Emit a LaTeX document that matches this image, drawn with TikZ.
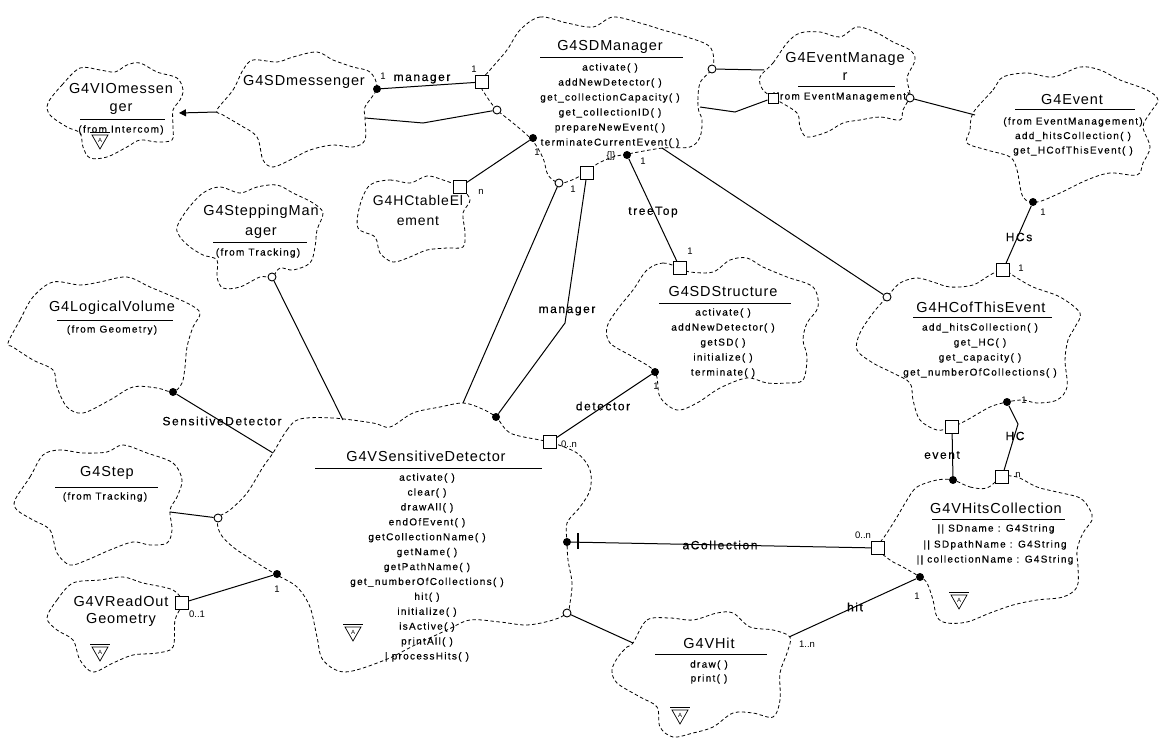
\documentclass[tikz,border=0pt]{standalone}
\usepackage{fontspec}
\setmainfont{Liberation Sans}
\newfontfamily\ttlfont[LetterSpace=6]{Liberation Sans}
\newfontfamily\smfont[LetterSpace=13,FakeBold=0.35]{Liberation Sans}
\usetikzlibrary{arrows.meta}
\tikzset{
 cloudline/.style={draw=black, line width=0.8pt, dash pattern=on 3.5pt off 2.5pt},
 conn/.style={draw=black, line width=1pt},
 sqbox/.style={shape=rectangle, draw=black, fill=white, line width=0.9pt, minimum size=13pt, inner sep=0pt},
 sqsmall/.style={sqbox, minimum size=10pt},
 hollowdot/.style={shape=circle, draw=black, fill=white, line width=0.9pt, minimum size=8pt, inner sep=0pt},
 fulldot/.style={shape=circle, fill=black, minimum size=8pt, inner sep=0pt},
 ttl/.style={font=\ttlfont\fontsize{14.5}{18}\selectfont, inner sep=0pt, align=center},
 meth/.style={font=\smfont\fontsize{10}{15}\selectfont, inner sep=0pt, align=center},
 lbl/.style={font=\smfont\fontsize{12}{14}\selectfont, inner sep=0pt},
 mult/.style={font=\fontsize{9.5}{10}\selectfont, inner sep=0pt},
 uline/.style={draw=black, line width=1pt},
 absmark/.pic={
   \draw[line width=0.7pt] (-10,-9) -- (10,-9);
   \draw[line width=0.7pt] (-8,-6) -- (8,-6) -- (0,8) -- cycle;
   \node[font=\fontsize{6}{6}\selectfont, inner sep=0pt] at (0,-1) {A};
 }
}
\begin{document}
\begin{tikzpicture}[x=1pt,y=-1pt]
\useasboundingbox[fill=white] (0,0) rectangle (1161,738);

% ---------------- clouds ----------------
\draw[cloudline] plot[smooth cycle, tension=0.55] coordinates {(48,103) (62,85) (80,68) (100,70) (115,72) (127,65) (140,63) (157,72) (177,78) (183,90) (180,100) (173,110) (173,127) (172,140) (157,142) (140,140) (127,147) (107,157) (90,158) (83,147) (80,133) (67,127) (50,115)};
\draw[cloudline] plot[smooth cycle, tension=0.55] coordinates {(217,110) (233,90) (243,70) (253,60) (277,62) (293,57) (317,52) (333,60) (353,67) (370,72) (377,88) (365,107) (365,118) (365,140) (353,147) (333,145) (310,150) (290,160) (273,167) (263,160) (257,137) (240,125) (223,115)};
\draw[cloudline] plot[smooth cycle, tension=0.55] coordinates {(520,30) (540,17) (567,23) (593,27) (613,17) (640,23) (663,30) (687,37) (710,47) (713,67) (700,83) (698,107) (702,120) (700,137) (690,147) (663,148) (633,153) (613,157) (597,164) (587,172) (572,180) (559,183) (548,175) (543,158) (532,140) (513,123) (497,110) (487,97) (480,83) (490,70) (507,50)};
\draw[cloudline] plot[smooth cycle, tension=0.55] coordinates {(760,77) (773,63) (787,43) (800,33) (820,32) (840,37) (857,27) (877,33) (893,42) (910,50) (915,60) (907,78) (910,95) (903,110) (900,120) (880,117) (860,120) (843,123) (827,132) (807,137) (800,127) (797,113) (777,100) (763,90)};
\draw[cloudline] plot[smooth cycle, tension=0.55] coordinates {(973,113) (993,90) (1003,77) (1027,73) (1053,77) (1080,67) (1100,70) (1120,80) (1147,90) (1158,100) (1150,113) (1143,127) (1150,147) (1143,163) (1137,175) (1110,173) (1087,180) (1060,193) (1037,202) (1023,197) (1017,170) (1010,157) (987,150) (967,143) (970,130)};
\draw[cloudline] plot[smooth cycle, tension=0.55] coordinates {(370,185) (390,180) (410,183) (427,176) (443,180) (460,187) (470,200) (463,213) (465,233) (463,247) (447,248) (427,250) (410,257) (393,262) (380,253) (375,237) (358,228) (360,205)};
\draw[cloudline] plot[smooth cycle, tension=0.55] coordinates {(177,227) (187,210) (203,193) (220,187) (240,193) (257,187) (277,185) (293,193) (313,203) (323,213) (317,230) (315,247) (310,263) (293,270) (280,268) (272,277) (260,277) (240,287) (223,288) (217,277) (217,260) (203,255) (190,247) (180,237)};
\draw[cloudline] plot[smooth cycle, tension=0.55] coordinates {(8,343) (20,320) (33,297) (53,282) (80,285) (100,282) (127,277) (150,287) (187,303) (200,313) (193,327) (187,347) (185,367) (182,383) (173,392) (157,388) (133,387) (110,400) (83,413) (67,407) (57,387) (53,370) (33,360) (13,347)};
\draw[cloudline] plot[smooth cycle, tension=0.55] coordinates {(15,500) (30,477) (43,455) (60,450) (83,453) (107,452) (123,445) (147,453) (173,463) (182,480) (177,497) (170,510) (172,530) (167,543) (150,545) (133,542) (110,550) (87,560) (70,565) (57,553) (50,530) (33,520) (17,510)};
\draw[cloudline] plot[smooth cycle, tension=0.55] coordinates {(47,618) (57,600) (73,583) (100,580) (123,577) (143,583) (173,590) (182,603) (175,620) (173,647) (157,653) (133,655) (113,663) (93,672) (80,660) (73,640) (57,630)};
\draw[cloudline] plot[smooth cycle, tension=0.55] coordinates {(273,453) (287,430) (300,419) (333,418) (373,423) (390,427) (413,413) (440,407) (463,403) (480,408) (496,417) (510,433) (540,440) (550,442) (577,453) (590,470) (590,490) (580,507) (567,523) (567,542) (568,560) (572,583) (570,603) (567,613) (553,620) (527,625) (500,622) (470,620) (447,630) (415,645) (385,660) (345,672) (323,660) (317,637) (310,607) (297,587) (277,575) (257,563) (233,547) (220,533) (218,518) (230,510) (247,493) (263,467)};
\draw[cloudline] plot[smooth cycle, tension=0.55] coordinates {(647,270) (663,263) (680,268) (690,272) (713,272) (730,260) (747,258) (763,267) (787,277) (813,287) (818,307) (807,323) (803,340) (807,357) (803,380) (787,383) (767,383) (747,378) (720,388) (697,403) (677,410) (660,397) (655,372) (633,357) (610,343) (607,327) (617,310) (633,290)};
\draw[cloudline] plot[smooth cycle, tension=0.55] coordinates {(887,297) (900,283) (917,278) (933,282) (950,287) (973,285) (990,275) (1003,270) (1017,278) (1033,287) (1060,297) (1080,313) (1075,327) (1068,340) (1065,360) (1067,387) (1057,400) (1037,403) (1023,400) (1007,402) (990,407) (967,420) (952,427) (937,430) (920,420) (913,400) (910,383) (893,373) (873,363) (857,350) (860,333) (873,313)};
\draw[cloudline] plot[smooth cycle, tension=0.55] coordinates {(953,480) (970,487) (987,488) (1002,477) (1017,477) (1037,487) (1057,492) (1080,498) (1090,510) (1092,520) (1083,533) (1077,550) (1078,567) (1077,587) (1063,597) (1037,600) (1013,605) (990,613) (967,622) (947,623) (937,617) (933,600) (927,583) (920,577) (903,567) (890,560) (878,548) (887,533) (897,517) (907,500) (917,487) (937,480)};
\draw[cloudline] plot[smooth cycle, tension=0.55] coordinates {(633,643) (647,620) (670,618) (693,620) (717,613) (733,613) (750,627) (773,630) (790,637) (787,653) (780,673) (780,700) (773,717) (753,713) (733,713) (713,727) (693,733) (673,737) (660,727) (657,707) (640,697) (617,683) (612,670) (618,657) (627,647)};

% ---------------- class texts ----------------
\node[ttl] (vio) at (121,99) {G4VIOmessen\\ger};
\draw[uline] (80,120) -- (165,120);
\node[meth] (vioF) at (121,130) {(from Intercom)};
\pic at (100,141) {absmark};

\node[ttl] (sdmsg) at (304,82) {G4SDmessenger};

\node[ttl] (sdm) at (610,47) {G4SDManager};
\draw[uline] (540,58) -- (683,58);
\node[meth] (sdmM) at (610,105.5) {activate( )\\addNewDetector( )\\get\_collectionCapacity( )\\get\_collectionID( )\\prepareNewEvent( )\\terminateCurrentEvent( )};

\node[ttl] (evm) at (845,66) {G4EventManage\\r};
\draw[uline] (798,87) -- (895,87);
\node[meth] (evmF) at (841,97) {(from EventManagement)};

\node[ttl] (ev) at (1072,100) {G4Event};
\draw[uline] (1015,110) -- (1135,110);
\node[meth, font=\smfont\fontsize{10}{14.5}\selectfont] (evM) at (1073,136.5) {(from EventManagement)\\add\_hitsCollection( )\\get\_HCofThisEvent( )};

\node[ttl, font=\ttlfont\fontsize{14}{20}\selectfont] (hct) at (418,210) {G4HCtableEl\\ement};

\node[ttl, font=\ttlfont\fontsize{14.5}{20}\selectfont] (stm) at (261,222) {G4SteppingMan\\ager};
\draw[uline] (213,242) -- (307,242);
\node[meth] (stmF) at (258,253) {(from Tracking)};

\node[ttl] (lv) at (112,308) {G4LogicalVolume};
\draw[uline] (57,320) -- (173,320);
\node[meth] (lvF) at (112,330) {(from Geometry)};

\node[ttl] (step) at (107,473) {G4Step};
\draw[uline] (55,487) -- (158,487);
\node[meth] (stepF) at (105,497) {(from Tracking)};

\node[ttl, font=\ttlfont\fontsize{14.5}{17}\selectfont] (ro) at (121,611.5) {G4VReadOut\\Geometry};
\pic at (100,653) {absmark};

\node[ttl] (vsd) at (426,456) {G4VSensitiveDetector};
\draw[uline] (315,468) -- (542,468);
\node[meth, font=\smfont\fontsize{10}{14.9}\selectfont] (vsdM) at (427,567.5) {activate( )\\clear( )\\drawAll( )\\endOfEvent( )\\getCollectionName( )\\getName( )\\getPathName( )\\get\_numberOfCollections( )\\hit( )\\initialize( )\\isActive( )\\printAll( )\\| processHits( )};
\pic at (353,633) {absmark};

\node[ttl] (sds) at (723,292) {G4SDStructure};
\draw[uline] (659,303) -- (791,303);
\node[meth] (sdsM) at (723,343) {activate( )\\addNewDetector( )\\getSD( )\\initialize( )\\terminate( )};

\node[ttl] (hce) at (981,307) {G4HCofThisEvent};
\draw[uline] (913,317) -- (1052,317);
\node[meth] (hceM) at (980,350.5) {add\_hitsCollection( )\\get\_HC( )\\get\_capacity( )\\get\_numberOfCollections( )};

\node[ttl] (vhc) at (996,508) {G4VHitsCollection};
\draw[uline] (932,519) -- (1065,519);
\node[meth] (vhcA1) at (996,529) {|| SDname : G4String};
\node[meth] (vhcA2) at (995,545) {|| SDpathName : G4String};
\node[meth] (vhcA3) at (995,560) {|| collectionName : G4String};
\pic at (959,601) {absmark};

\node[ttl] (vhit) at (709,643) {G4VHit};
\draw[uline] (655,654) -- (767,654);
\node[meth, font=\smfont\fontsize{10}{14}\selectfont] (vhitM) at (709,672) {draw( )\\print( )};
\pic at (680,716) {absmark};

% ---------------- end points ----------------
\coordinate (cMsgInh) at (217,112);
\coordinate (cVioR) at (179,113);
\node[fulldot] (fdMsgMgr) at (377,89) {};
\node[sqbox] (sqMgrMsg) at (482,82) {};
\coordinate (cMsgUse) at (365,118);
\coordinate (cUseBend) at (423,123);
\node[hollowdot] (hcMgrMsg) at (497,110) {};
\node[hollowdot] (hcMgrEM) at (712,69) {};
\coordinate (cEMup) at (764,70);
\coordinate (cMgrEM) at (700,107);
\coordinate (cEMbend) at (735,112);
\node[sqsmall] (sqEM) at (773,98) {};
\node[hollowdot] (hcEMEv) at (910,98) {};
\coordinate (cEvL) at (975,115);
\node[fulldot] (fdMgrHCT) at (533,138) {};
\node[sqbox] (sqHCT) at (460,187) {};
\node[hollowdot] (hcMgrVSD) at (559,183) {};
\coordinate (cVSDtop) at (463,403);
\node[sqbox] (sqMgrVSD) at (587,173) {};
\coordinate (cMgrBend) at (565,323);
\node[fulldot] (fdVSDMgr) at (496,417) {};
\node[fulldot] (fdMgrSDS) at (627,155) {};
\node[sqbox] (sqSDS) at (680,268) {};
\coordinate (cMgrHCE) at (662,148);
\node[hollowdot] (hcHCE) at (887,297) {};
\node[fulldot] (fdEvHCE) at (1033,202) {};
\node[sqbox] (sqHCEv) at (1003,270) {};
\node[sqbox] (sqHCEev) at (952,427) {};
\node[fulldot] (fdVHCev) at (953,480) {};
\node[fulldot] (fdHCEhc) at (1007,402) {};
\coordinate (cHCbend) at (1018,424);
\node[sqbox] (sqVHChc) at (1002,477) {};
\node[fulldot] (fdVSDcol) at (567,542) {};
\node[sqbox] (sqVHCcol) at (878,548) {};
\node[fulldot] (fdVHChit) at (920,577) {};
\coordinate (cHitTop) at (789,637);
\node[hollowdot] (hcVSDhit) at (567,613) {};
\coordinate (cHitL) at (633,643);
\node[hollowdot] (hcSMgr) at (272,277) {};
\coordinate (cVSDsm) at (343,420);
\node[fulldot] (fdLV) at (173,392) {};
\coordinate (cVSDlv) at (273,453);
\coordinate (cStepR) at (170,512);
\node[hollowdot] (hcVSDstep) at (218,518) {};
\node[sqbox] (sqRO) at (182,603) {};
\node[fulldot] (fdVSDro) at (277,574) {};
\node[sqbox] (sqVSDdet) at (550,442) {};
\node[fulldot] (fdSDSdet) at (655,372) {};

% ---------------- connectors ----------------
\draw[conn, -{Triangle[length=7pt,width=7pt]}] (cMsgInh) -- (cVioR);
\draw[conn] (fdMsgMgr) -- (sqMgrMsg);
\draw[conn] (cMsgUse) -- (cUseBend) -- (hcMgrMsg);
\draw[conn] (hcMgrEM) -- (cEMup);
\draw[conn] (cMgrEM) -- (cEMbend) -- (sqEM);
\draw[conn] (hcEMEv) -- (cEvL);
\draw[conn] (fdMgrHCT) -- (sqHCT);
\draw[conn] (hcMgrVSD) -- (cVSDtop);
\draw[conn] (sqMgrVSD) -- (cMgrBend) -- (fdVSDMgr);
\draw[conn] (fdMgrSDS) -- (sqSDS);
\draw[conn] (cMgrHCE) -- (hcHCE);
\draw[conn] (fdEvHCE) -- (sqHCEv);
\draw[conn] (sqHCEev) -- (fdVHCev);
\draw[conn] (fdHCEhc) -- (cHCbend) -- (sqVHChc);
\draw[conn] (fdVSDcol) -- (sqVHCcol);
\draw[conn, line width=1.6pt] (578,533) -- (578,549);
\draw[conn] (fdVHChit) -- (cHitTop);
\draw[conn] (hcVSDhit) -- (cHitL);
\draw[conn] (hcSMgr) -- (cVSDsm);
\draw[conn] (fdLV) -- (cVSDlv);
\draw[conn] (cStepR) -- (hcVSDstep);
\draw[conn] (sqRO) -- (fdVSDro);
\draw[conn] (sqVSDdet) -- (fdSDSdet);

% ---------------- connector labels ----------------
\node[lbl] (lManager1) at (422,79) {manager};
\node[mult] (m1) at (383,76) {1};
\node[mult] (m2) at (474,69) {1};
\node[mult] (m3) at (537,152) {1};
\node[mult] (m4) at (481,192) {n};
\node[mult] (m5) at (573,189) {1};
\node[lbl] (lManager2) at (567,311) {manager};
\node[mult] (m6) at (611,156) {\{]\}};
\node[mult] (m7) at (643,161) {1};
\node[lbl] (lTreeTop) at (653,212) {treeTop};
\node[mult] (m8) at (690,251) {1};
\node[mult] (m9) at (1043,212) {1};
\node[lbl] (lHCs) at (1019,237) {HCs};
\node[mult] (m10) at (1021,268) {1};
\node[lbl] (lEvent) at (942,455) {event};
\node[mult] (m11) at (1024,400) {1};
\node[lbl] (lHC) at (1015,436) {HC};
\node[mult] (m12) at (1018,475) {n};
\node[mult] (m13) at (863,535) {0..n};
\node[lbl] (lCol) at (720,545) {aCollection};
\node[lbl] (lHit) at (855,607) {hit};
\node[mult] (m14) at (807,644) {1..n};
\node[mult] (m15) at (917,596) {1};
\node[lbl] (lSD) at (222,421) {SensitiveDetector};
\node[mult] (m16) at (197,614) {0..1};
\node[mult] (m17) at (277,589) {1};
\node[mult] (m18) at (569,444) {0..n};
\node[mult] (m19) at (656,386) {1};
\node[lbl] (lDet) at (603,406) {detector};
\end{tikzpicture}
\end{document}
